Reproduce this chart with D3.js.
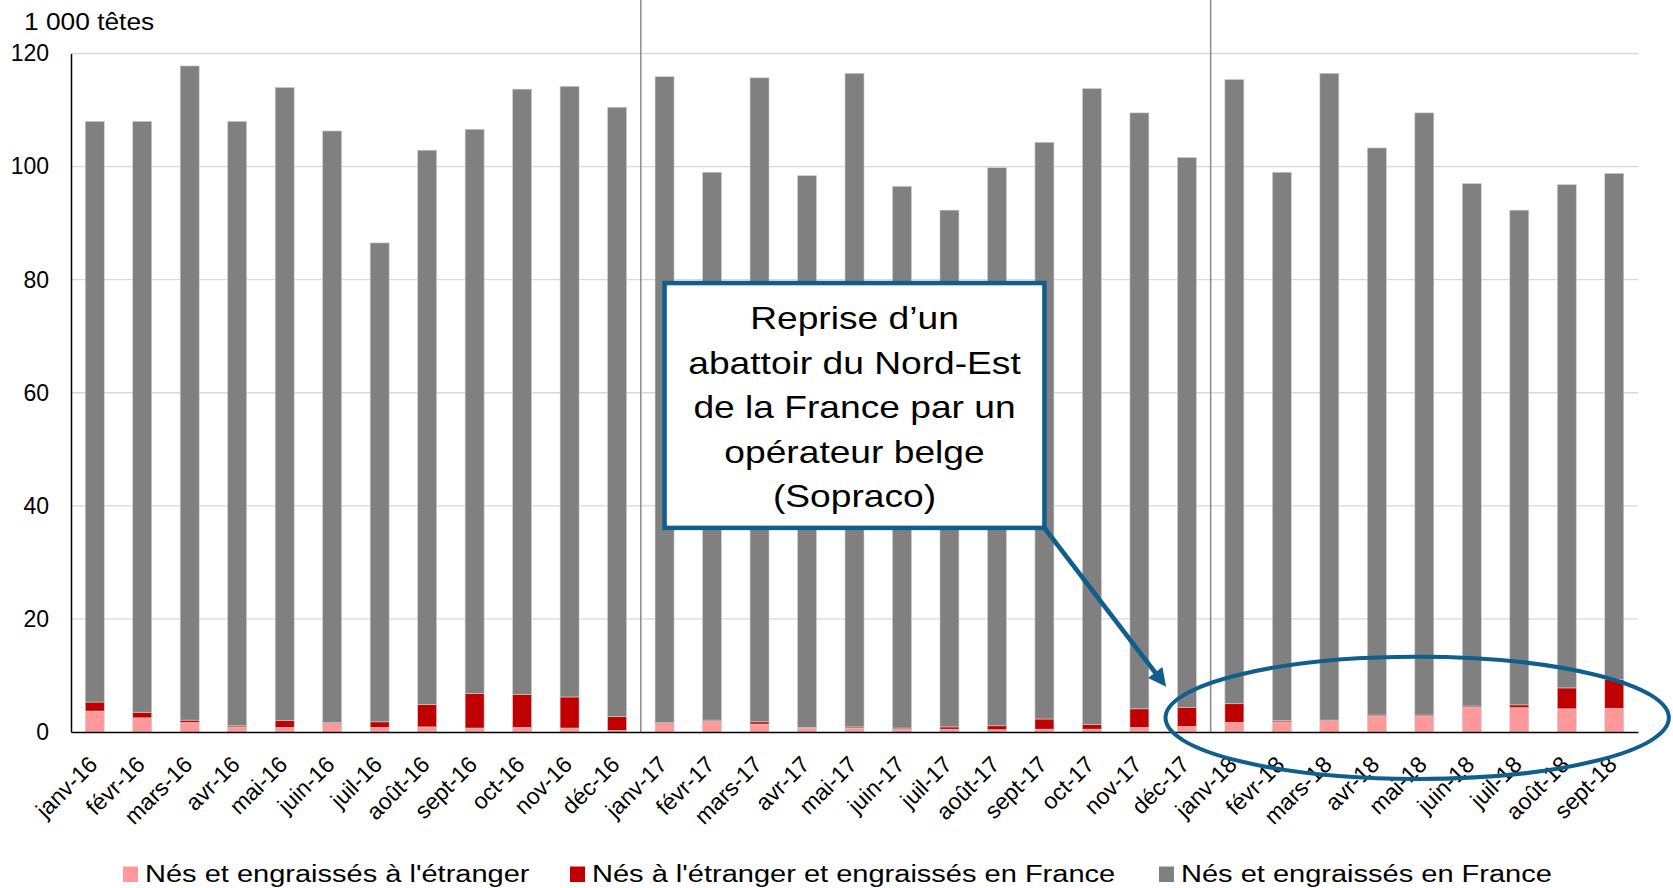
<!DOCTYPE html>
<html>
<head>
<meta charset="utf-8">
<script src="https://cdn.jsdelivr.net/npm/d3@7"></script>
<style>
  body { margin: 0; background: #fff; }
  svg text { font-family: "Liberation Sans", Arial, sans-serif; fill: #000; }
</style>
</head>
<body>
<svg width="1673" height="888"></svg>
<script>
const months = ['janv-16', 'févr-16', 'mars-16', 'avr-16', 'mai-16', 'juin-16', 'juil-16', 'août-16', 'sept-16', 'oct-16', 'nov-16', 'déc-16',
  'janv-17', 'févr-17', 'mars-17', 'avr-17', 'mai-17', 'juin-17', 'juil-17', 'août-17', 'sept-17', 'oct-17', 'nov-17', 'déc-17',
  'janv-18', 'févr-18', 'mars-18', 'avr-18', 'mai-18', 'juin-18', 'juil-18', 'août-18', 'sept-18'];

// 1 000 têtes
const etranger = [3.7, 2.5, 1.7, 0.9, 0.8, 1.5, 0.8, 0.9, 0.7, 0.8, 0.7, 0.3,
  1.5, 1.9, 1.4, 0.7, 0.7, 0.5, 0.5, 0.4, 0.5, 0.5, 0.8, 1.0,
  1.7, 1.8, 2.0, 2.8, 2.8, 4.4, 4.3, 4.1, 4.2];
const engraisFrance = [1.6, 1.0, 0.4, 0.2, 1.2, 0.2, 1.0, 4.0, 6.1, 5.8, 5.5, 2.4,
  0.2, 0.2, 0.4, 0.1, 0.2, 0.2, 0.4, 0.7, 1.8, 0.8, 3.3, 3.3,
  3.3, 0.2, 0.1, 0.2, 0.2, 0.2, 0.5, 3.7, 5.1];
const totals = [108.0, 108.0, 117.8, 108.0, 114.0, 106.3, 86.5, 102.9, 106.6, 113.7, 114.2, 110.5,
  115.9, 99.0, 115.7, 98.4, 116.5, 96.5, 92.3, 99.8, 104.3, 113.8, 109.5, 101.6,
  115.4, 99.0, 116.5, 103.3, 109.5, 97.0, 92.3, 96.8, 98.8];
const seriesNames = ["Nés et engraissés à l'étranger", 'Nés à l\'étranger et engraissés en France', 'Nés et engraissés en France'];
const colors = ['#FF9999', '#C00000', '#808080'];
const yTicks = [0, 20, 40, 60, 80, 100, 120];
const noteLines = ['Reprise d\u2019un', 'abattoir du Nord-Est', 'de la France par un', 'opérateur belge', '(Sopraco)'];

const svg = d3.select('svg');
const margin = {left: 71, right: 35, top: 53.5, bottom: 156};
const width = 1673;
const height = 888;
const stretch = 1.18; // text in the legend and the note box is drawn wider than normal

const data = months.map((m, i) => ({
  month: m,
  a: etranger[i],
  b: engraisFrance[i],
  c: totals[i] - etranger[i] - engraisFrance[i]
}));
const stack = d3.stack().keys(['a', 'b', 'c'])(data);

const x = d3.scaleBand()
.domain(months)
.range([margin.left, width - margin.right])
.paddingInner(0.6)
.paddingOuter(0.3);
const y = d3.scaleLinear()
.domain([0, 120])
.range([height - margin.bottom, margin.top]);

const band = x.step();
const xEdge = i => margin.left + i * band; // left boundary of the i-th category slot
const xMid = m => x(m) + x.bandwidth() / 2;

// gridlines
svg.append('g')
.selectAll('line')
.data(yTicks.slice(1))
.enter().append('line')
.attr('x1', margin.left)
.attr('x2', width - margin.right)
.attr('y1', d => y(d))
.attr('y2', d => y(d))
.attr('stroke', '#d9d9d9')
.attr('stroke-width', 1.3);

// year separators
svg.append('g')
.selectAll('line')
.data([12, 24])
.enter().append('line')
.attr('x1', d => xEdge(d))
.attr('x2', d => xEdge(d))
.attr('y1', 0)
.attr('y2', y(0))
.attr('stroke', '#8c8c8c')
.attr('stroke-width', 1.5);

// bars
svg.append('g')
.selectAll('g')
.data(stack)
.enter().append('g')
.attr('fill', (d, i) => colors[i])
.selectAll('rect')
.data(d => d)
.enter().append('rect')
.attr('x', d => x(d.data.month))
.attr('width', x.bandwidth())
.attr('y', d => y(d[1]))
.attr('height', d => y(d[0]) - y(d[1]))
.attr('stroke', '#d0d0d0')
.attr('stroke-width', 0.6);

// y axis
const yAxis = svg.append('g')
.attr('transform', `translate(${margin.left},0)`)
.call(d3.axisLeft(y).tickValues(yTicks).tickSize(0).tickPadding(22));
yAxis.select('.domain').attr('stroke', '#000').attr('stroke-width', 1.5);
yAxis.selectAll('text').attr('font-size', 23).attr('fill', '#000')
.attr('font-family', '"Liberation Sans", Arial, sans-serif');

// x axis
const xAxis = svg.append('g')
.attr('transform', `translate(0,${y(0)})`)
.call(d3.axisBottom(x).tickSize(0).tickFormat(''));
xAxis.select('.domain').attr('stroke', '#000').attr('stroke-width', 1.5);

svg.append('g')
.selectAll('text')
.data(months)
.enter().append('text')
.attr('transform', d => `translate(${xMid(d) + 4},${y(0) + 34}) rotate(-45)`)
.attr('text-anchor', 'end')
.attr('font-size', 23)
.text(d => d);

// unit label
svg.append('text')
.attr('transform', 'translate(24,30) scale(1.12,1)')
.attr('font-size', 23.5)
.text('1 000 têtes');

// legend
const legendX = [123, 570, 1159];
const legend = svg.append('g')
.selectAll('g')
.data(seriesNames)
.enter().append('g')
.attr('transform', (d, i) => `translate(${legendX[i]},882)`);
legend.append('rect')
.attr('x', 0)
.attr('y', -15.5)
.attr('width', 15)
.attr('height', 15.5)
.attr('fill', (d, i) => colors[i]);
legend.append('text')
.attr('transform', `translate(22,0) scale(${stretch},1)`)
.attr('font-size', 24.6)
.text(d => d);

// annotation
const blue = '#0F5E8C';
const note = svg.append('g');
const boxL = xMid('janv-17');
const boxR = xMid('sept-17');
const boxT = y(79.4);
const boxB = y(36.1);

// arrow from the box corner to déc-17
const arrowEnd = [xEdge(23) + 3, y(8.0)];
const ang = Math.atan2(arrowEnd[1] - boxB, arrowEnd[0] - boxR);
const head = 18;
note.append('line')
.attr('x1', boxR)
.attr('y1', boxB)
.attr('x2', arrowEnd[0] - Math.cos(ang) * head * 0.8)
.attr('y2', arrowEnd[1] - Math.sin(ang) * head * 0.8)
.attr('stroke', blue)
.attr('stroke-width', 4.7);
note.append('path')
.attr('d', () => {
  const p = arrowEnd;
  const bx = p[0] - Math.cos(ang) * head;
  const by = p[1] - Math.sin(ang) * head;
  const w = 9;
  return `M${p[0]},${p[1]}L${bx + Math.sin(ang) * w},${by - Math.cos(ang) * w}L${bx - Math.sin(ang) * w},${by + Math.cos(ang) * w}Z`;
})
.attr('fill', blue);

note.append('rect')
.attr('x', boxL)
.attr('y', boxT)
.attr('width', boxR - boxL)
.attr('height', boxB - boxT)
.attr('fill', '#fff')
.attr('stroke', blue)
.attr('stroke-width', 4.5);

note.append('g')
.selectAll('text')
.data(noteLines)
.enter().append('text')
.attr('transform', (d, i) => `translate(${(boxL + boxR) / 2},${boxT + 35 + i * 44.6}) scale(${stretch},1)`)
.attr('dy', '0.35em')
.attr('text-anchor', 'middle')
.attr('font-size', 31.5)
.text(d => d);

// ellipse round the 2018 foreign-origin bars
note.append('ellipse')
.attr('cx', xEdge(28.35))
.attr('cy', y(2.5))
.attr('rx', band * 5.3)
.attr('ry', y(0) - y(10.8))
.attr('fill', 'none')
.attr('stroke', blue)
.attr('stroke-width', 4);
</script>
</body>
</html>
